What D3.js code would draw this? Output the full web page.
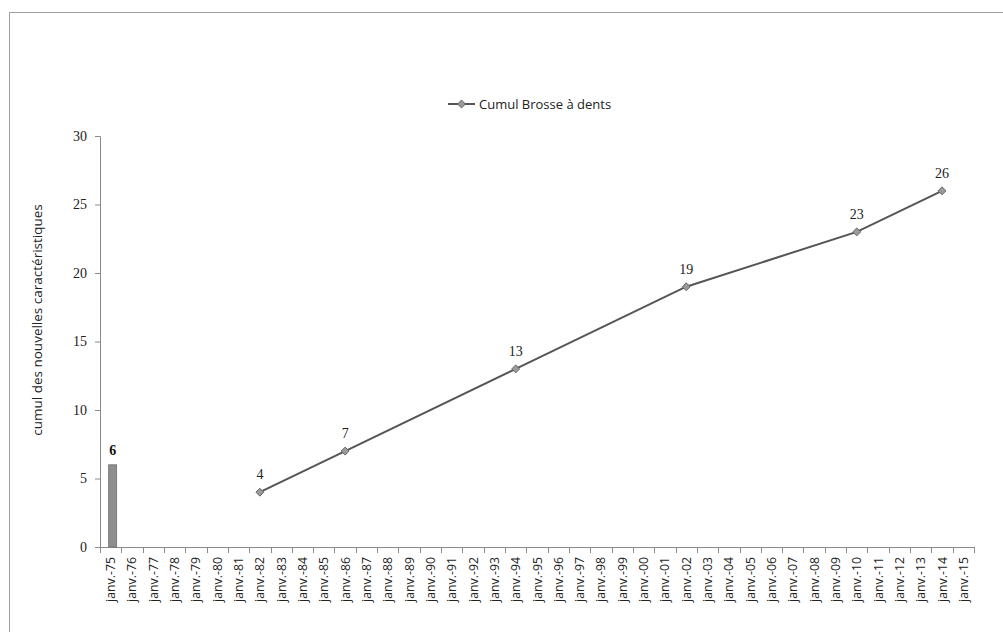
<!DOCTYPE html>
<html><head><meta charset="utf-8">
<script src="https://cdn.jsdelivr.net/npm/d3@7"></script>
<style>
body{margin:0;background:#fff;}
svg{display:block;}
</style></head>
<body><svg id="c" width="1003" height="632"></svg>
<script>
const years = ["75","76","77","78","79","80","81","82","83","84","85","86","87","88","89","90","91","92","93","94","95","96","97","98","99","00","01","02","03","04","05","06","07","08","09","10","11","12","13","14","15"];
const categories = years.map(y => "janv.-" + y);
const barCategories = ["janv.-75"];
const barValues = [6];
const lineCategories = ["janv.-82","janv.-86","janv.-94","janv.-02","janv.-10","janv.-14"];
const lineValues = [4,7,13,19,23,26];
const yTicks = [0,5,10,15,20,25,30];
const seriesName = "Cumul Brosse à dents";
const yTitle = "cumul des nouvelles caractéristiques";

const svg = d3.select("#c");
const sans = "'Open Sans', Lato, sans-serif";
const serif = "'Liberation Serif', 'DejaVu Serif', serif";

// outer border
svg.append("rect").attr("x",9.5).attr("y",12.5).attr("width",1010).attr("height",640)
  .attr("fill","none").attr("stroke","#a0a0a0").attr("stroke-width",1);

const pLeft = 100, pRight = 974, pTop = 136, pBottom = 547;
const x = d3.scaleBand().domain(categories).range([pLeft, pRight]).padding(0);
const y = d3.scaleLinear().domain([0,30]).range([pBottom, pTop]);

// y axis
const yAxis = svg.append("g").attr("transform",`translate(${pLeft},0)`)
  .call(d3.axisLeft(y).tickValues(yTicks).tickSize(5).tickPadding(8));
yAxis.select(".domain").attr("stroke","#8a8a8a").attr("d",`M-5,${pTop+0.5}H0.5V${pBottom}`);
yAxis.selectAll(".tick line").attr("stroke","#8a8a8a");
yAxis.selectAll(".tick text").attr("font-family",serif).attr("font-size",14).attr("fill","#222");

// x axis
const xg = svg.append("g").attr("transform",`translate(0,${pBottom})`);
xg.append("line").attr("x1",pLeft).attr("x2",pRight).attr("y1",0.5).attr("y2",0.5).attr("stroke","#8a8a8a");
const tickPos = categories.map(c => x(c)).concat([x(categories[categories.length-1]) + x.bandwidth()]);
xg.selectAll("line.t").data(tickPos).enter().append("line").attr("class","t")
  .attr("x1",d=>Math.round(d)+0.5).attr("x2",d=>Math.round(d)+0.5).attr("y1",0).attr("y2",6).attr("stroke","#8a8a8a");
xg.selectAll("text").data(categories).enter().append("text")
  .attr("transform",d=>`translate(${x(d)+x.bandwidth()/2+4.5},10) rotate(-90)`)
  .attr("text-anchor","end").attr("font-family",sans).attr("font-size",12.3).attr("fill","#222")
  .text(d=>d);

// y title
svg.append("text").attr("transform",`translate(42,320) rotate(-90)`)
  .attr("text-anchor","middle").attr("font-family",sans).attr("font-size",13.5).attr("fill","#222")
  .text(yTitle);

// bars
const bw = 8;
svg.selectAll("rect.bar").data(barValues).enter().append("rect").attr("class","bar")
  .attr("x",(d,i)=>x(barCategories[i])+x.bandwidth()/2-bw/2+2)
  .attr("y",d=>y(d)).attr("width",bw).attr("height",d=>pBottom-y(d))
  .attr("fill","#8e8e8e").attr("stroke","#707070").attr("stroke-width",0.8);
svg.selectAll("text.bl").data(barValues).enter().append("text").attr("class","bl")
  .attr("x",(d,i)=>x(barCategories[i])+x.bandwidth()/2+2).attr("y",d=>y(d)-10)
  .attr("text-anchor","middle").attr("font-family",serif).attr("font-weight","bold").attr("font-size",14).attr("fill","#111")
  .text(d=>d);

// line
const pts = lineValues.map((v,i)=>({c:lineCategories[i], v}));
const cx = d => x(d.c)+x.bandwidth()/2;
svg.append("path").datum(pts)
  .attr("d", d3.line().x(cx).y(d=>y(d.v)))
  .attr("fill","none").attr("stroke","#555").attr("stroke-width",2);
const diamond = d3.symbol().type(d3.symbolDiamond2).size(40);
svg.selectAll("path.m").data(pts).enter().append("path").attr("class","m")
  .attr("d",diamond).attr("transform",d=>`translate(${cx(d)},${y(d.v)})`)
  .attr("fill","#9a9a9a").attr("stroke","#666").attr("stroke-width",1);
svg.selectAll("text.dl").data(pts).enter().append("text").attr("class","dl")
  .attr("x",cx).attr("y",d=>y(d.v)-13)
  .attr("text-anchor","middle").attr("font-family",serif).attr("font-size",14).attr("fill","#222")
  .text(d=>d.v);

// legend
const lg = svg.append("g").attr("transform","translate(448,104)");
lg.append("line").attr("x1",0).attr("x2",27).attr("y1",0).attr("y2",0).attr("stroke","#555").attr("stroke-width",2);
lg.append("path").attr("d",diamond).attr("transform","translate(13.5,0)").attr("fill","#9a9a9a").attr("stroke","#666");
lg.append("text").attr("x",31).attr("y",4.5).attr("font-family",sans).attr("font-size",13).attr("fill","#222").text(seriesName);
</script></body></html>
